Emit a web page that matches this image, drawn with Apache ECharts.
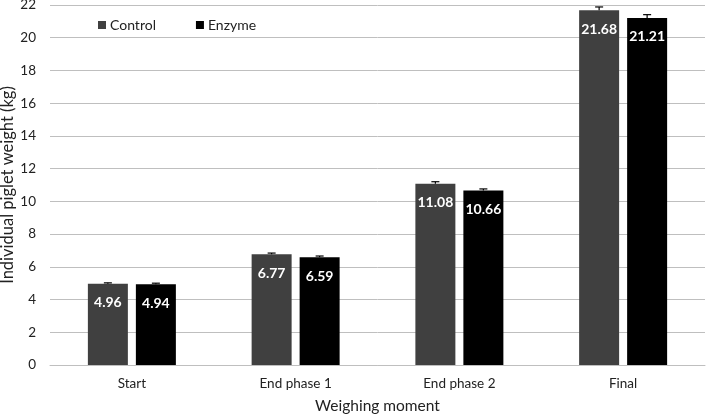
<!DOCTYPE html>
<html><head><meta charset="utf-8">
<script src="https://cdn.jsdelivr.net/npm/echarts@6/dist/echarts.min.js"></script>
<style>html,body{margin:0;padding:0;background:#fff}#c{width:709px;height:416px}</style>
</head><body><div id="c"></div>
<script>
const categories = ['Start', 'End phase 1', 'End phase 2', 'Final'];
const controlValues = [4.96, 6.77, 11.08, 21.68];
const enzymeValues = [4.94, 6.59, 10.66, 21.21];
const controlErr = [0.06, 0.07, 0.12, 0.2];
const enzymeErr = [0.06, 0.07, 0.1, 0.2];
const yTicks = [0, 2, 4, 6, 8, 10, 12, 14, 16, 18, 20, 22];

const FONT = 'Lato';
const BAR_W = 40, GAP = 8;
const chart = echarts.init(document.getElementById('c'), null, {renderer: 'canvas'});

function errSeries(vals, errs, off) {
  return {
    type: 'custom', z: 5, silent: true,
    data: vals.map((v, i) => [i, v, errs[i]]),
    renderItem: function (params, api) {
      const x = api.coord([api.value(0), 0])[0] + off;
      const top = api.coord([api.value(0), api.value(1) + api.value(2)])[1];
      const mid = api.coord([api.value(0), api.value(1)])[1];
      const style = {stroke: '#000', lineWidth: 1.2};
      return {type: 'group', children: [
        {type: 'line', shape: {x1: x, y1: top, x2: x, y2: mid}, style},
        {type: 'line', shape: {x1: x - 4, y1: top, x2: x + 4, y2: top}, style}
      ]};
    }
  };
}

const labelCfg = {show: true, position: 'insideTop', distance: 12, color: '#fff', fontFamily: FONT, fontWeight: 'bold', fontSize: 14};

chart.setOption({
  animation: false,
  textStyle: {fontFamily: FONT},
  grid: {left: 50, right: 4, top: 5, bottom: 51, containLabel: false, outerBoundsMode: 'none'},
  legend: {
    left: 93, top: 13, itemWidth: 8, itemHeight: 8, itemGap: 40, icon: 'rect',
    textStyle: {fontFamily: FONT, fontSize: 14, color: '#222', padding: [0, 0, 0, -1]},
    data: ['Control', 'Enzyme']
  },
  xAxis: {
    type: 'category', data: categories,
    name: 'Weighing moment', nameLocation: 'middle', nameGap: 33, nameMoveOverlap: false,
    nameTextStyle: {fontFamily: FONT, fontSize: 15.5, color: '#222'},
    axisTick: {show: false},
    axisLine: {lineStyle: {color: '#bfbfbf', width: 1}},
    axisLabel: {fontFamily: FONT, fontSize: 13.5, color: '#222', margin: 12}
  },
  yAxis: {
    type: 'value', min: 0, max: 22, interval: 2,
    name: 'Individual piglet weight (kg)', nameLocation: 'middle', nameGap: 34, nameMoveOverlap: false,
    nameTextStyle: {fontFamily: FONT, fontSize: 16.5, color: '#222'},
    axisLabel: {fontFamily: FONT, fontSize: 13.5, color: '#222', margin: 14,
      formatter: v => yTicks.includes(v) ? String(v) : ''},
    splitLine: {lineStyle: {color: '#bfbfbf', width: 1}},
    axisLine: {show: false}, axisTick: {show: false}
  },
  series: [
    {name: 'Control', type: 'bar', data: controlValues, barWidth: BAR_W, barGap: (GAP / BAR_W * 100) + '%',
      itemStyle: {color: '#404040'}, label: Object.assign({}, labelCfg, {formatter: p => p.value.toFixed(2)})},
    {name: 'Enzyme', type: 'bar', data: enzymeValues, barWidth: BAR_W,
      itemStyle: {color: '#000000'}, label: Object.assign({}, labelCfg, {formatter: p => p.value.toFixed(2)})},
    errSeries(controlValues, controlErr, -(BAR_W + GAP) / 2),
    errSeries(enzymeValues, enzymeErr, (BAR_W + GAP) / 2)
  ]
});
</script></body></html>
